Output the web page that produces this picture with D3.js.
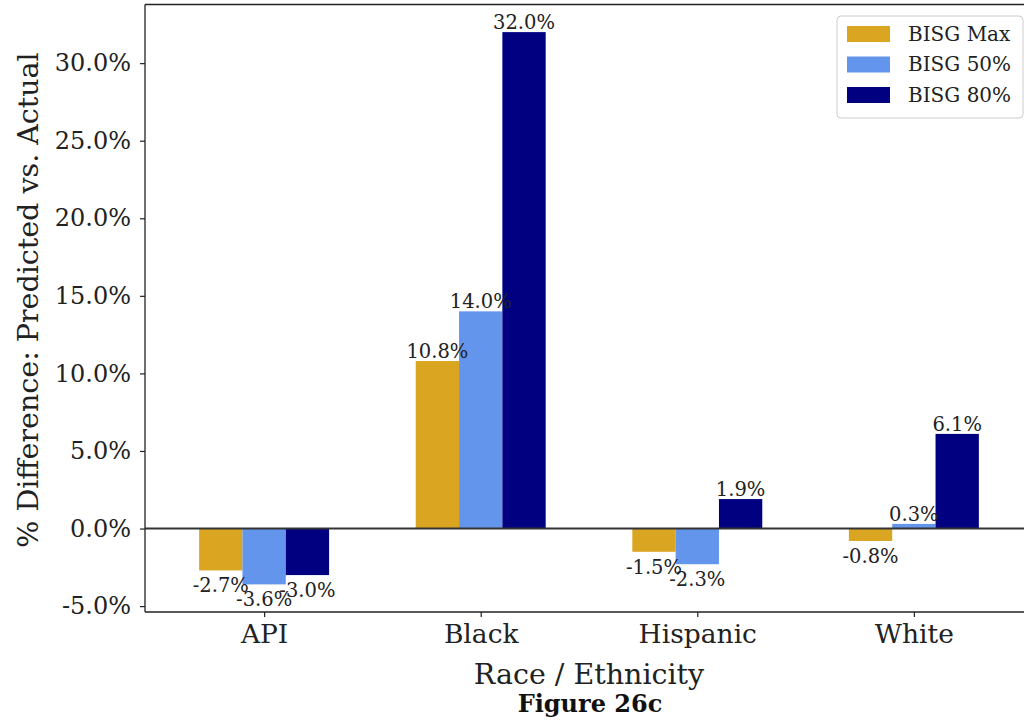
<!DOCTYPE html>
<html>
<head>
<meta charset="utf-8">
<script src="https://cdn.jsdelivr.net/npm/d3@7"></script>
<style>
  html, body { margin: 0; padding: 0; background: #fff; }
  svg { display: block; font-family: "DejaVu Serif", serif; }
</style>
</head>
<body>
<svg id="chart" width="1024" height="721"></svg>
<script>
// Race / ethnicity groups and the three BISG estimates (% difference, predicted vs. actual)
const categories = ["API", "Black", "Hispanic", "White"];
const seriesNames = ["BISG Max", "BISG 50%", "BISG 80%"];
const bisgMax = [-2.7, 10.8, -1.5, -0.8];
const bisg50 = [-3.6, 14.0, -2.3, 0.3];
const bisg80 = [-3.0, 32.0, 1.9, 6.1];
const yTicks = [-5, 0, 5, 10, 15, 20, 25, 30];
const colors = ["#DAA520", "#6495ED", "#000080"];

const seriesValues = [bisgMax, bisg50, bisg80];

const svg = d3.select("#chart");
const plot = { left: 145, right: 1033, top: 4.5, bottom: 612 };

const x = d3.scaleLinear().domain([-0.55, categories.length - 0.45]).range([plot.left, plot.right]);
const y = d3.scaleLinear().domain([-5.38, 33.78]).range([plot.bottom, plot.top]);
const barW = 0.2;
const offsets = [-0.2, 0, 0.2];

// bars
const bars = [];
seriesValues.forEach((vals, s) => {
  vals.forEach((v, i) => bars.push({ s, i, v }));
});

svg.append("g").selectAll("rect").data(bars).join("rect")
  .attr("x", d => x(d.i + offsets[d.s] - barW / 2))
  .attr("width", d => x(barW) - x(0))
  .attr("y", d => y(Math.max(0, d.v)))
  .attr("height", d => Math.abs(y(d.v) - y(0)))
  .attr("fill", d => colors[d.s]);

// zero reference line
svg.append("line")
  .attr("x1", plot.left).attr("x2", plot.right)
  .attr("y1", y(0)).attr("y2", y(0))
  .attr("stroke", "#333").attr("stroke-width", 2);

// value labels
const fmt = v => v.toFixed(1) + "%";
svg.append("g").selectAll("text").data(bars).join("text")
  .attr("x", d => x(d.i + offsets[d.s]))
  .attr("y", d => d.v >= 0 ? y(d.v) - 3 : y(d.v) + 22)
  .attr("text-anchor", "middle")
  .attr("font-size", 19.5)
  .attr("fill", "#222")
  .text(d => fmt(d.v));

// axes
const yAxis = d3.axisLeft(y).tickValues(yTicks).tickSize(5).tickPadding(9)
  .tickFormat(d => d.toFixed(1) + "%");
const gy = svg.append("g").attr("transform", `translate(${plot.left},0)`).call(yAxis);
gy.select(".domain").remove();
gy.selectAll(".tick line").attr("stroke", "#222").attr("stroke-width", 1.2);
gy.selectAll(".tick text").attr("font-size", 24).attr("font-family", "DejaVu Serif").attr("fill", "#222");

const xAxis = d3.axisBottom(x).tickValues(d3.range(categories.length)).tickSize(5).tickPadding(7)
  .tickFormat(i => categories[i]);
const gx = svg.append("g").attr("transform", `translate(0,${plot.bottom})`).call(xAxis);
gx.select(".domain").remove();
gx.selectAll(".tick line").attr("stroke", "#222").attr("stroke-width", 1.2);
gx.selectAll(".tick text").attr("font-size", 26.5).attr("font-family", "DejaVu Serif").attr("fill", "#222");

// spines
const spine = svg.append("g").attr("stroke", "#222").attr("stroke-width", 1.3).attr("fill", "none");
spine.append("line").attr("x1", plot.left).attr("x2", plot.left).attr("y1", plot.top).attr("y2", plot.bottom);
spine.append("line").attr("x1", plot.left).attr("x2", plot.right).attr("y1", plot.bottom).attr("y2", plot.bottom);
spine.append("line").attr("x1", plot.left).attr("x2", plot.right).attr("y1", plot.top).attr("y2", plot.top);
spine.append("line").attr("x1", plot.right).attr("x2", plot.right).attr("y1", plot.top).attr("y2", plot.bottom);

// axis titles
svg.append("text")
  .attr("transform", `translate(38,300) rotate(-90)`)
  .attr("text-anchor", "middle")
  .attr("font-size", 28.5)
  .attr("fill", "#222")
  .text("% Difference: Predicted vs. Actual");

svg.append("text")
  .attr("x", 589).attr("y", 684)
  .attr("text-anchor", "middle")
  .attr("font-size", 28.5)
  .attr("fill", "#222")
  .text("Race / Ethnicity");

svg.append("text")
  .attr("x", 590).attr("y", 712)
  .attr("text-anchor", "middle")
  .attr("font-size", 24)
  .attr("font-weight", "bold")
  .attr("fill", "#111")
  .text("Figure 26c");

// legend
const legend = svg.append("g").attr("transform", "translate(837,16)");
legend.append("rect")
  .attr("width", 186).attr("height", 102).attr("rx", 4)
  .attr("fill", "#fff").attr("stroke", "#ccc").attr("stroke-width", 1);
const items = legend.selectAll("g.item").data(seriesNames).join("g")
  .attr("class", "item")
  .attr("transform", (d, i) => `translate(0,${18 + i * 30.5})`);
items.append("rect")
  .attr("x", 10).attr("y", -8).attr("width", 43).attr("height", 16)
  .attr("fill", (d, i) => colors[i]);
items.append("text")
  .attr("x", 71).attr("y", 6.5)
  .attr("font-size", 20)
  .attr("fill", "#222")
  .text(d => d);
</script>
</body>
</html>
